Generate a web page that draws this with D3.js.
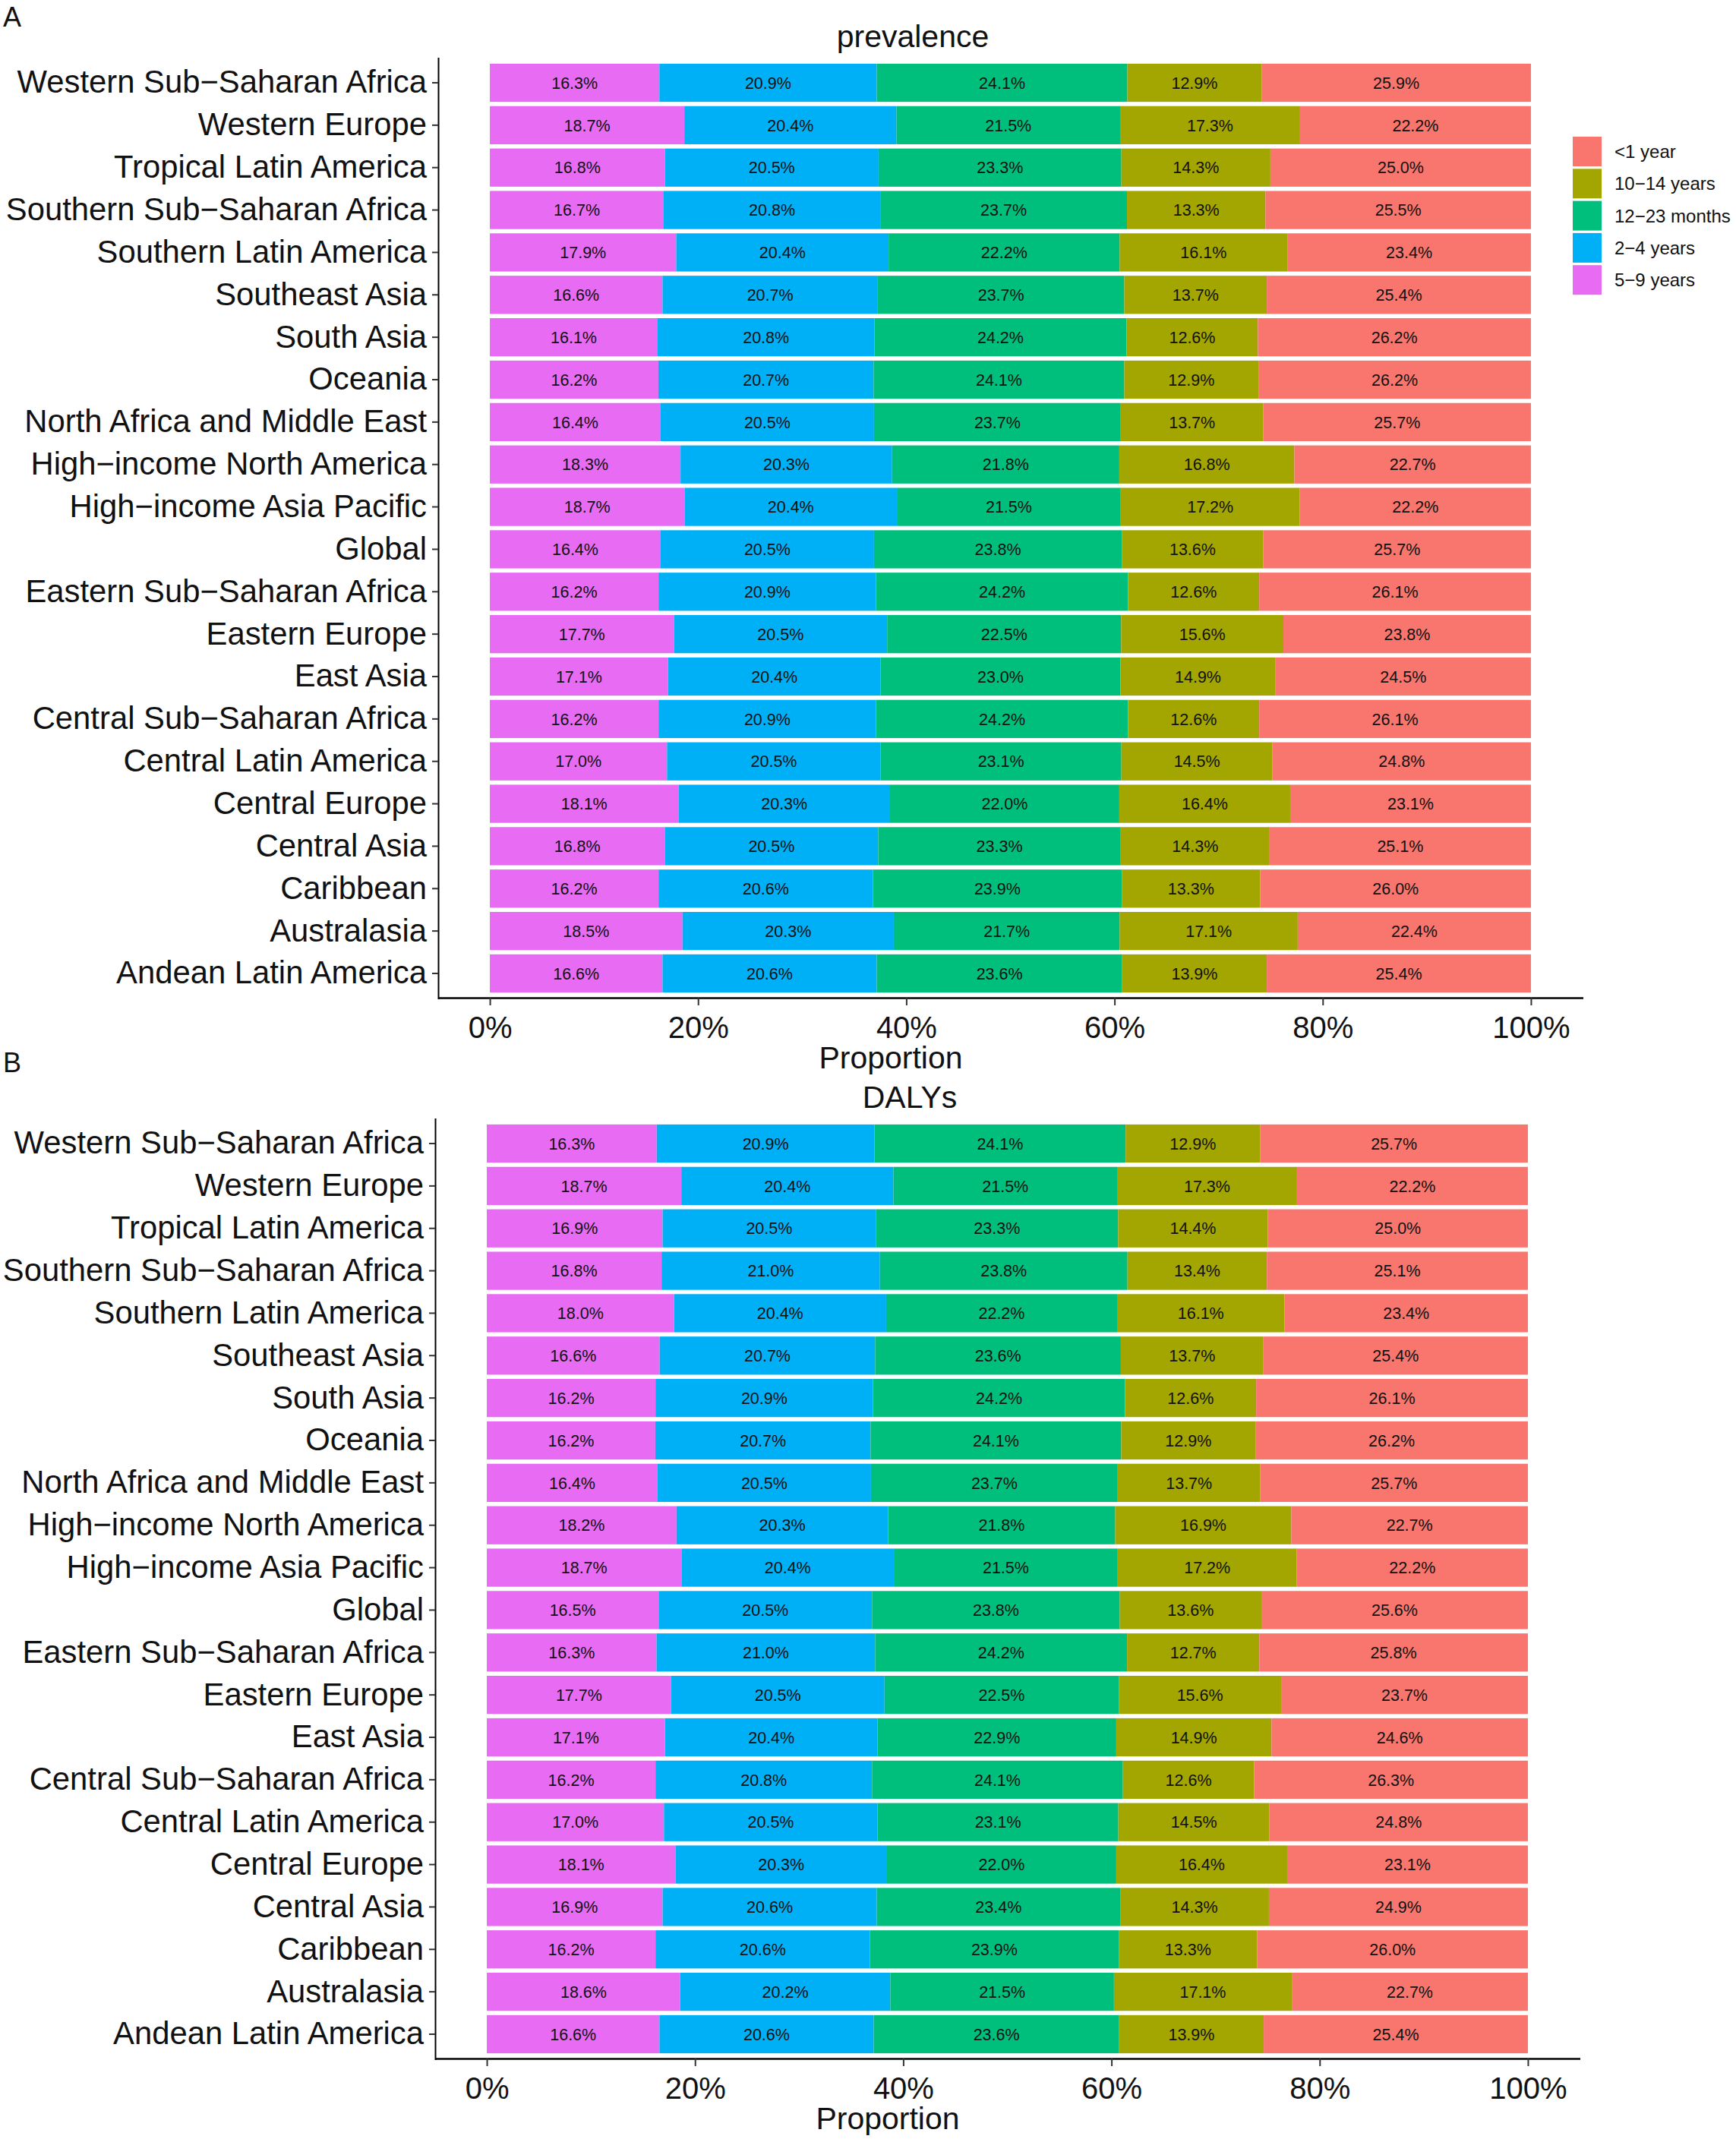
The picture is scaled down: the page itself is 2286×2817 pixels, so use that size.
<!DOCTYPE html>
<html>
<head>
<meta charset="utf-8">
<script src="https://cdn.jsdelivr.net/npm/d3@7"></script>
<style>
  body { margin: 0; background: #ffffff; }
  svg text { font-family: "Liberation Sans", Arial, sans-serif; }
</style>
</head>
<body>
<svg id="chart" width="2286" height="2817"></svg>
<script>
// Regions, top to bottom
var regions = [
  "Western Sub−Saharan Africa", "Western Europe", "Tropical Latin America",
  "Southern Sub−Saharan Africa", "Southern Latin America", "Southeast Asia",
  "South Asia", "Oceania", "North Africa and Middle East",
  "High−income North America", "High−income Asia Pacific", "Global",
  "Eastern Sub−Saharan Africa", "Eastern Europe", "East Asia",
  "Central Sub−Saharan Africa", "Central Latin America", "Central Europe",
  "Central Asia", "Caribbean", "Australasia", "Andean Latin America"
];

// Stack order, left to right
var ageGroups = ["5−9 years", "2−4 years", "12−23 months", "10−14 years", "<1 year"];
var legendOrder = ["<1 year", "10−14 years", "12−23 months", "2−4 years", "5−9 years"];
var xTicks = [0, 0.2, 0.4, 0.6, 0.8, 1];

// prevalence (%)
var prev5to9   = [16.3, 18.7, 16.8, 16.7, 17.9, 16.6, 16.1, 16.2, 16.4, 18.3, 18.7, 16.4, 16.2, 17.7, 17.1, 16.2, 17.0, 18.1, 16.8, 16.2, 18.5, 16.6];
var prev2to4   = [20.9, 20.4, 20.5, 20.8, 20.4, 20.7, 20.8, 20.7, 20.5, 20.3, 20.4, 20.5, 20.9, 20.5, 20.4, 20.9, 20.5, 20.3, 20.5, 20.6, 20.3, 20.6];
var prev12to23 = [24.1, 21.5, 23.3, 23.7, 22.2, 23.7, 24.2, 24.1, 23.7, 21.8, 21.5, 23.8, 24.2, 22.5, 23.0, 24.2, 23.1, 22.0, 23.3, 23.9, 21.7, 23.6];
var prev10to14 = [12.9, 17.3, 14.3, 13.3, 16.1, 13.7, 12.6, 12.9, 13.7, 16.8, 17.2, 13.6, 12.6, 15.6, 14.9, 12.6, 14.5, 16.4, 14.3, 13.3, 17.1, 13.9];
var prevUnder1 = [25.9, 22.2, 25.0, 25.5, 23.4, 25.4, 26.2, 26.2, 25.7, 22.7, 22.2, 25.7, 26.1, 23.8, 24.5, 26.1, 24.8, 23.1, 25.1, 26.0, 22.4, 25.4];

// DALYs (%)
var daly5to9   = [16.3, 18.7, 16.9, 16.8, 18.0, 16.6, 16.2, 16.2, 16.4, 18.2, 18.7, 16.5, 16.3, 17.7, 17.1, 16.2, 17.0, 18.1, 16.9, 16.2, 18.6, 16.6];
var daly2to4   = [20.9, 20.4, 20.5, 21.0, 20.4, 20.7, 20.9, 20.7, 20.5, 20.3, 20.4, 20.5, 21.0, 20.5, 20.4, 20.8, 20.5, 20.3, 20.6, 20.6, 20.2, 20.6];
var daly12to23 = [24.1, 21.5, 23.3, 23.8, 22.2, 23.6, 24.2, 24.1, 23.7, 21.8, 21.5, 23.8, 24.2, 22.5, 22.9, 24.1, 23.1, 22.0, 23.4, 23.9, 21.5, 23.6];
var daly10to14 = [12.9, 17.3, 14.4, 13.4, 16.1, 13.7, 12.6, 12.9, 13.7, 16.9, 17.2, 13.6, 12.7, 15.6, 14.9, 12.6, 14.5, 16.4, 14.3, 13.3, 17.1, 13.9];
var dalyUnder1 = [25.7, 22.2, 25.0, 25.1, 23.4, 25.4, 26.1, 26.2, 25.7, 22.7, 22.2, 25.6, 25.8, 23.7, 24.6, 26.3, 24.8, 23.1, 24.9, 26.0, 22.7, 25.4];

var colors = {
  "<1 year": "#F8766D",
  "10−14 years": "#A3A500",
  "12−23 months": "#00BF7D",
  "2−4 years": "#00B0F6",
  "5−9 years": "#E76BF3"
};

var svg = d3.select("#chart");

// Shared scales (panel coordinates)
var x = d3.scaleLinear().domain([-0.05, 1.05]).range([576.5, 2084.5]);
var y = d3.scaleBand().domain(regions).range([75.5, 1315.5])
  .paddingInner(0.1).paddingOuter(0.15);

function buildRows(series) {
  return regions.map(function(r, i) {
    var row = { region: r };
    ageGroups.forEach(function(a, k) { row[a] = series[k][i]; });
    return row;
  });
}

function drawPanel(g, title, series) {
  var rows = buildRows(series);
  var stacked = d3.stack().keys(ageGroups).offset(d3.stackOffsetExpand)(rows);

  // Bars
  var layers = g.selectAll("g.layer").data(stacked).enter().append("g")
    .attr("class", "layer")
    .attr("fill", function(d) { return colors[d.key]; });

  layers.selectAll("rect").data(function(d) { return d; }).enter().append("rect")
    .attr("x", function(d) { return x(d[0]); })
    .attr("width", function(d) { return x(d[1]) - x(d[0]); })
    .attr("y", function(d) { return y(d.data.region); })
    .attr("height", y.bandwidth());

  // Labels in segments
  stacked.forEach(function(layer) {
    g.append("g").selectAll("text").data(layer).enter().append("text")
      .attr("x", function(d) { return (x(d[0]) + x(d[1])) / 2; })
      .attr("y", function(d) { return y(d.data.region) + y.bandwidth() / 2 + 7.7; })
      .attr("text-anchor", "middle")
      .style("font-size", "21.5px")
      .style("fill", "#111111")
      .text(function(d) { return d.data[layer.key].toFixed(1) + "%"; });
  });

  // Y axis
  var yAxis = g.append("g")
    .attr("transform", "translate(577,0)")
    .call(d3.axisLeft(y).tickSize(8).tickSizeOuter(0).tickPadding(7));
  yAxis.select(".domain").attr("stroke", "#000").attr("stroke-width", 2);
  yAxis.selectAll(".tick line").attr("stroke", "#333").attr("stroke-width", 2);
  yAxis.selectAll(".tick text")
    .style("font-size", "41.8px")
    .style("fill", "#111111")
    .style("font-family", "'Liberation Sans', Arial, sans-serif");

  // X axis
  var xAxis = g.append("g")
    .attr("transform", "translate(0,1314)")
    .call(d3.axisBottom(x).tickValues(xTicks).tickFormat(d3.format(".0%"))
      .tickSize(10).tickSizeOuter(0).tickPadding(15));
  xAxis.select(".domain").attr("stroke", "#000").attr("stroke-width", 2.6);
  xAxis.selectAll(".tick line").attr("stroke", "#333").attr("stroke-width", 2);
  xAxis.selectAll(".tick text")
    .style("font-size", "40px")
    .style("fill", "#111111")
    .style("font-family", "'Liberation Sans', Arial, sans-serif");

  // Titles
  g.append("text")
    .attr("x", 1202).attr("y", 62)
    .attr("text-anchor", "middle")
    .style("font-size", "41px")
    .style("fill", "#111111")
    .text(title);

  g.append("text")
    .attr("x", 1173).attr("y", 1407)
    .attr("text-anchor", "middle")
    .style("font-size", "41px")
    .style("fill", "#111111")
    .text("Proportion");
}

// Panel A
var panelA = svg.append("g");
drawPanel(panelA, "prevalence", [prev5to9, prev2to4, prev12to23, prev10to14, prevUnder1]);

// Panel B
var panelB = svg.append("g").attr("transform", "translate(-4,1397)");
drawPanel(panelB, "DALYs", [daly5to9, daly2to4, daly12to23, daly10to14, dalyUnder1]);

// Panel letters
svg.append("text").attr("x", 4).attr("y", 35)
  .style("font-size", "36px").style("fill", "#111111").text("A");
svg.append("text").attr("x", 4).attr("y", 1412)
  .style("font-size", "36px").style("fill", "#111111").text("B");

// Legend (top panel only)
var legend = svg.append("g").attr("transform", "translate(2071,180)");
var keyStep = 42.3;
legend.selectAll("rect").data(legendOrder).enter().append("rect")
  .attr("x", 0)
  .attr("y", function(d, i) { return i * keyStep; })
  .attr("width", 38)
  .attr("height", 39)
  .attr("fill", function(d) { return colors[d]; });
legend.selectAll("text").data(legendOrder).enter().append("text")
  .attr("x", 55)
  .attr("y", function(d, i) { return i * keyStep + 19.5 + 8.6; })
  .style("font-size", "24px")
  .style("fill", "#111111")
  .text(function(d) { return d; });
</script>
</body>
</html>
